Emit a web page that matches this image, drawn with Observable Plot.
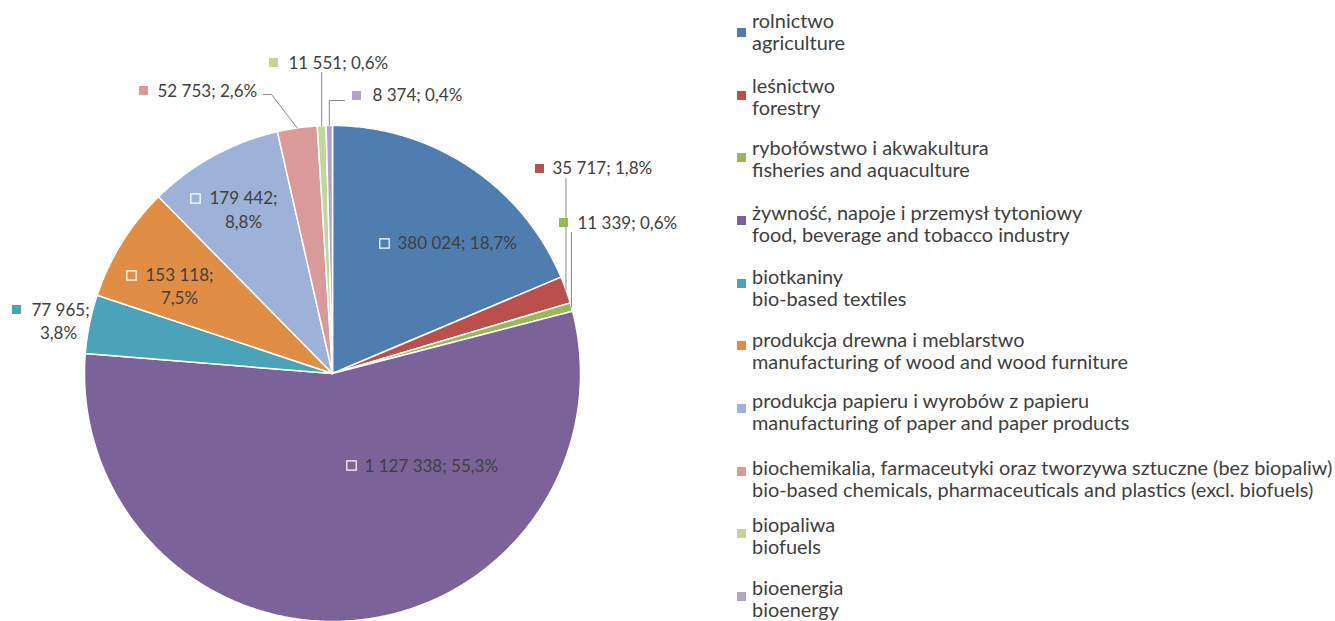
<!DOCTYPE html>
<html>
<head>
<meta charset="utf-8">
<script src="https://cdn.jsdelivr.net/npm/d3@7"></script>
<script src="https://cdn.jsdelivr.net/npm/@observablehq/plot@0.6"></script>
<style>
  body { margin: 0; background: #fff; }
  #wrap { position: relative; width: 1335px; height: 621px; overflow: hidden; font-family: Lato, sans-serif; color: #404040; }
  #chart { position: absolute; left: 0; top: 0; }
  .lg-item { position: absolute; left: 737px; top: 0; }
  .lg-sw { position: absolute; left: 0; width: 9px; height: 9px; }
  .lg-txt { position: absolute; left: 15px; white-space: nowrap; font-size: 19.9px; line-height: 21.5px; }
</style>
</head>
<body>
<div id="wrap">
  <div id="chart"></div>
  <div id="legend"></div>
</div>
<script>
// ---- data ----
const keys = ["agr", "for", "fish", "food", "tex", "wood", "paper", "chem", "fuel", "energy"];
const namesPL = [
  "rolnictwo",
  "leśnictwo",
  "rybołówstwo i akwakultura",
  "żywność, napoje i przemysł tytoniowy",
  "biotkaniny",
  "produkcja drewna i meblarstwo",
  "produkcja papieru i wyrobów z papieru",
  "biochemikalia, farmaceutyki oraz tworzywa sztuczne (bez biopaliw)",
  "biopaliwa",
  "bioenergia"
];
const namesEN = [
  "agriculture",
  "forestry",
  "fisheries and aquaculture",
  "food, beverage and tobacco industry",
  "bio-based textiles",
  "manufacturing of wood and wood furniture",
  "manufacturing of paper and paper products",
  "bio-based chemicals, pharmaceuticals and plastics (excl. biofuels)",
  "biofuels",
  "bioenergy"
];
const values = [380024, 35717, 11339, 1127338, 77965, 153118, 179442, 52753, 11551, 8374];
const colors = ["#4f7db0", "#ba4f4c", "#98b956", "#7b6299", "#4aa3b8", "#e08e46", "#9db2d6", "#d99a99", "#c2d69b", "#b3a3c7"];

// ---- layout (pixels in the chart area) ----
const W = 720, H = 621, CX = 332, CY = 373, R = 248;
// label square, first line start, optional centered second line, optional leader elbows
const labelLayout = [
  {sq: [384, 243], l1: [397, 243], inside: true},
  {sq: [539, 168], l1: [552, 168], leader: [[null, 178]]},
  {sq: [563, 222], l1: [577, 223], leader: [[null, 232]]},
  {sq: [351, 465], l1: [364, 466], inside: true},
  {sq: [16, 309], l1: [31, 310], l2: [58, 333]},
  {sq: [131, 275], l1: [145, 275], l2: [179, 298], inside: true},
  {sq: [195, 198], l1: [209, 198], l2: [243, 222], inside: true},
  {sq: [143, 90], l1: [157, 91], leader: [[271, 94], [263, 94]]},
  {sq: [273, 62], l1: [288, 63], leader: [[null, 72]]},
  {sq: [356, 95], l1: [372, 95], leader: [[null, 100], [344, 100]]}
];
// legend: swatch centre and first text line centre (px from top)
const legendSwatchY = [32, 95, 157, 220, 283, 345, 408, 471, 533, 596];
const legendLineY = [21, 86, 148, 213, 277, 340, 401, 468, 525, 588];

const ux = px => (px - CX) / R;
const uy = py => (CY - py) / R;

const locale = d3.formatLocale({decimal: ",", thousands: "\u00a0", grouping: [3], currency: ["", ""]});
const fmtInt = locale.format(",d");
const total = d3.sum(values);
const pct = v => (v / total * 100).toFixed(1).replace(".", ",") + "%";

const rows = keys.map((k, i) => ({key: k, value: values[i], i}));
const arcs = d3.pie().sort(null).value(d => d.value)(rows);

// slice polygons
const slicePts = [];
for (const a of arcs) {
  const k = a.data.key;
  slicePts.push({key: k, x: 0, y: 0});
  const n = Math.max(2, Math.ceil((a.endAngle - a.startAngle) / (Math.PI / 360)));
  for (let j = 0; j <= n; j++) {
    const t = a.startAngle + (a.endAngle - a.startAngle) * j / n;
    slicePts.push({key: k, x: Math.sin(t), y: Math.cos(t)});
  }
  slicePts.push({key: k, x: 0, y: 0});
}

// leaders
const leaderPts = [];
arcs.forEach((a, i) => {
  const L = labelLayout[i];
  if (!L.leader) return;
  const m = (a.startAngle + a.endAngle) / 2;
  const ex = Math.sin(m), ey = Math.cos(m);
  leaderPts.push({key: a.data.key, x: ex, y: ey});
  for (const [px, py] of L.leader) {
    leaderPts.push({key: a.data.key, x: px == null ? ex : ux(px), y: uy(py)});
  }
});

// labels
const sqOut = [], sqIn = [], txtStart = [], txtMid = [];
rows.forEach((d, i) => {
  const L = labelLayout[i];
  const s = {key: d.key, x: ux(L.sq[0]), y: uy(L.sq[1])};
  (L.inside ? sqIn : sqOut).push(s);
  if (L.l2) {
    txtStart.push({x: ux(L.l1[0]), y: uy(L.l1[1]), text: fmtInt(d.value) + ";"});
    txtMid.push({x: ux(L.l2[0]), y: uy(L.l2[1]), text: pct(d.value)});
  } else {
    txtStart.push({x: ux(L.l1[0]), y: uy(L.l1[1]), text: fmtInt(d.value) + "; " + pct(d.value)});
  }
});

const plot = Plot.plot({
  width: W,
  height: H,
  margin: 0,
  x: {domain: [ux(0), ux(W)], axis: null},
  y: {domain: [uy(H), uy(0)], axis: null},
  color: {domain: keys, range: colors},
  style: {fontFamily: "Lato, sans-serif", background: "transparent"},
  marks: [
    Plot.line(slicePts, {x: "x", y: "y", z: "key", fill: "key", stroke: "white", strokeWidth: 1.5, strokeLinejoin: "round", curve: "linear"}),
    Plot.line(leaderPts, {x: "x", y: "y", z: "key", stroke: "#8a8a8a", strokeWidth: 1, curve: "linear"}),
    Plot.dot(sqOut, {x: "x", y: "y", fill: "key", symbol: "square", r: 5.1}),
    Plot.dot(sqIn, {x: "x", y: "y", fill: "key", stroke: "white", strokeWidth: 1.2, symbol: "square", r: 5.3}),
    Plot.text(txtStart, {x: "x", y: "y", text: "text", textAnchor: "start", fill: "#404040", fontSize: 17}),
    Plot.text(txtMid, {x: "x", y: "y", text: "text", textAnchor: "middle", fill: "#404040", fontSize: 17})
  ]
});
document.getElementById("chart").appendChild(plot);

// legend
const legend = document.getElementById("legend");
keys.forEach((k, i) => {
  const item = document.createElement("div");
  item.className = "lg-item";
  const sw = document.createElement("div");
  sw.className = "lg-sw";
  sw.style.top = (legendSwatchY[i] - 4.5) + "px";
  sw.style.background = colors[i];
  const tx = document.createElement("div");
  tx.className = "lg-txt";
  tx.style.top = (legendLineY[i] - 10.75) + "px";
  tx.innerHTML = namesPL[i] + "<br>" + namesEN[i];
  item.appendChild(sw);
  item.appendChild(tx);
  legend.appendChild(item);
});
</script>
</body>
</html>
